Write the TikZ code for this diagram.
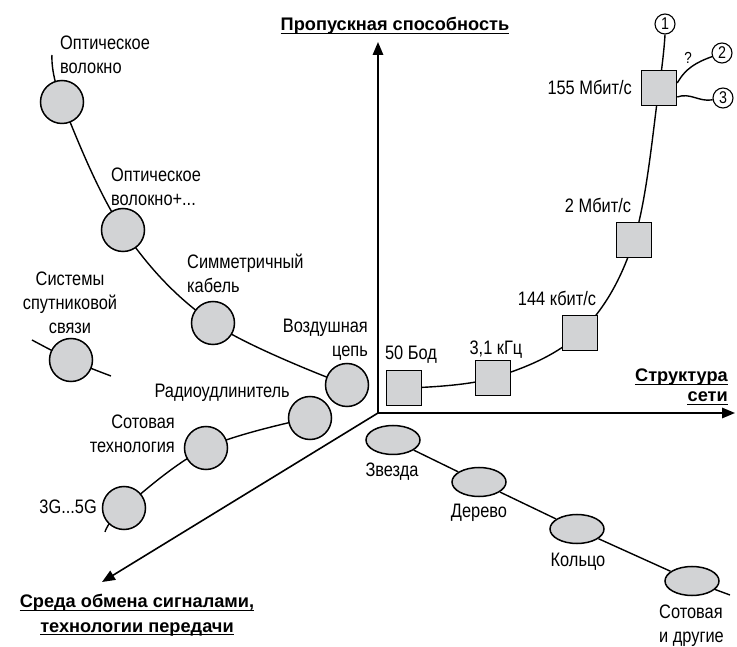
\documentclass[tikz,border=0pt]{standalone}
\usepackage{fontspec}
\setmainfont{Liberation Sans}[FakeStretch=0.84]
\newfontfamily\axisfont{Liberation Sans}
\usetikzlibrary{arrows.meta,backgrounds,shapes.geometric}
\definecolor{nodegray}{RGB}{210,211,213}

\begin{document}
\begin{tikzpicture}[x=1pt,y=1pt,
    medium/.style={circle,draw=black,line width=1.5pt,fill=nodegray,minimum size=43pt,inner sep=0pt},
    rate/.style={rectangle,draw=black,line width=1.5pt,fill=nodegray,minimum size=35pt,inner sep=0pt},
    topo/.style={ellipse,draw=black,line width=1.5pt,fill=nodegray,minimum width=54pt,minimum height=29pt,inner sep=0pt},
    variant/.style={circle,draw=black,line width=1.1pt,fill=white,minimum size=20pt,inner sep=0pt,font=\fontsize{17}{17}\selectfont},
    lbl/.style={inner sep=0pt,font=\fontsize{19.5}{24}\selectfont},
    axislbl/.style={inner sep=0pt,anchor=base,font=\axisfont\bfseries\fontsize{18.2}{22}\selectfont},
    link/.style={line width=1.4pt},
    axis/.style={line width=1.6pt,-{Triangle[length=13pt,width=10.5pt]}}]
    \useasboundingbox (0,0) rectangle (737,646);

    \coordinate (O) at (378,233);
    \coordinate (ytop) at (378,604);
    \coordinate (xtop) at (735,233);
    \coordinate (ztop) at (102,64);
    \draw[axis] (O) -- (ytop);
    \draw[axis] (O) -- (xtop);
    \draw[axis] (O) -- (ztop);

    \node[axislbl] (tY) at (395,615) {Пропускная способность};
    \node[axislbl,anchor=base east] (tX1) at (728,264) {Структура};
    \node[axislbl,anchor=base east] (tX2) at (728,244) {сети};
    \node[axislbl] (tZ1) at (137,38) {Среда обмена сигналами,};
    \node[axislbl] (tZ2) at (137,14) {технологии передачи};
    \foreach \t in {tY,tX1,tX2,tZ1,tZ2}
        \draw[line width=1.4pt] ([yshift=-2.5pt]\t.base west) -- ([yshift=-2.5pt]\t.base east);

    % media
    \coordinate (o0) at (52,591);
    \node[medium] (o1) at (62,544) {};
    \node[medium] (o2) at (123,416) {};
    \node[medium] (o3) at (213,323) {};
    \node[medium] (o4) at (347,261) {};
    \node[medium] (o5) at (310,228) {};
    \node[medium] (o6) at (206,198) {};
    \node[medium] (o7) at (124,138) {};
    \coordinate (r0) at (105,114);
    \node[medium] (sat) at (71,286) {};
    \coordinate (s1) at (32,306);
    \coordinate (s2) at (111,270);

    \node[lbl,align=left,anchor=west] (l1) at (60,591) {Оптическое\\волокно};
    \node[lbl,align=left,anchor=west] (l2) at (111,459) {Оптическое\\волокно+...};
    \node[lbl,align=left,anchor=west] (l3) at (187,373) {Симметричный\\кабель};
    \node[lbl,align=center] (l4) at (70,343) {Системы\\спутниковой\\связи};
    \node[lbl,align=right,anchor=east] (l5) at (368,306) {Воздушная\\цепь};
    \node[lbl,anchor=east] (l6) at (290,253) {Радиоудлинитель};
    \node[lbl,align=right,anchor=east] (l7) at (175,212) {Сотовая\\технология};
    \node[lbl,anchor=east] (l8) at (97,139) {3G...5G};

    % rates
    \node[rate] (q1) at (404,258) {};
    \node[rate] (q2) at (493,268) {};
    \node[rate] (q3) at (580,313) {};
    \node[rate] (q4) at (634,406) {};
    \node[rate] (q5) at (659,558) {};
    \node[variant] (n1) at (665,622) {1};
    \node[variant] (n2) at (722,593) {2};
    \node[variant] (n3) at (723,548) {3};

    \node[lbl] (k1) at (411,291) {50 Бод};
    \node[lbl] (k2) at (496,296) {3,1 кГц};
    \node[lbl] (k3) at (557,348) {144 кбит/с};
    \node[lbl] (k4) at (598,441) {2 Мбит/с};
    \node[lbl,anchor=east] (k5) at (632,559) {155 Мбит/с};
    \node[inner sep=0pt,font=\fontsize{16}{16}\selectfont] (qm) at (688,588) {?};

    % structures
    \node[topo] (e1) at (393,206) {};
    \node[topo] (e2) at (479,164) {};
    \node[topo] (e3) at (577,117) {};
    \node[topo] (e4) at (692,65) {};
    \coordinate (e5) at (730,51);

    \node[lbl] (m1) at (392,174) {Звезда};
    \node[lbl] (m2) at (479,133) {Дерево};
    \node[lbl] (m3) at (578,84) {Кольцо};
    \node[lbl,align=left,anchor=west] (m4) at (659,20) {Сотовая\\и другие};

    \begin{pgfonlayer}{background}
        \draw[link] plot[smooth,tension=0.6] coordinates {(o0) (o1.center) (o2.center) (o3.center) (o4.center)};
        \draw[link] plot[smooth,tension=0.6] coordinates {(o5.center) (o6.center) (o7.center) (r0)};
        \draw[link] plot[smooth,tension=0.6] coordinates {(s1) (sat.center) (s2)};
        \draw[link] plot[smooth,tension=0.6] coordinates {(q1.center) (q2.center) (q3.center) (q4.center) (q5.center) (n1.south)};
        \draw[link] (e1) -- (e2) -- (e3) -- (e4) -- (e5);
    \end{pgfonlayer}
    \draw[link] ([yshift=5pt]q5.east) to[out=60,in=200] (n2);
    \draw[link] ([yshift=-9pt]q5.east) to[out=20,in=190] (n3);
\end{tikzpicture}
\end{document}
